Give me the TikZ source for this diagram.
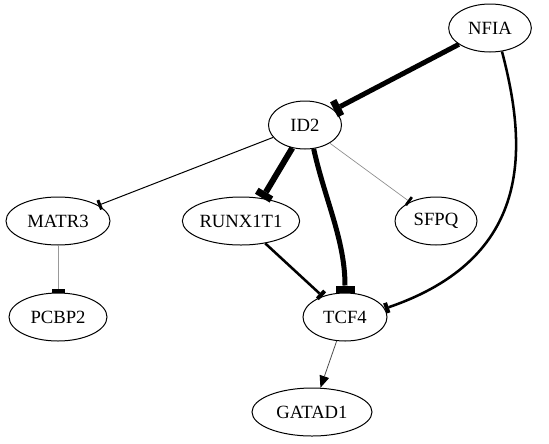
\documentclass[tikz,border=0pt]{standalone}
\usepackage{fontspec}
\setmainfont{Liberation Serif}
\usetikzlibrary{arrows.meta,shapes.geometric}
\begin{document}
\begin{tikzpicture}[x=0.75pt,y=-0.75pt,
  gene/.style={draw, ellipse, line width=0.75pt, inner sep=0pt, minimum height=36pt, font=\fontsize{14}{16}\selectfont},
  teeXL/.style={line width=3.75pt, -{Rectangle[length=5.25pt,width=14.25pt,line width=0pt]}},
  teeL/.style={line width=4.5pt, -{Rectangle[length=5.25pt,width=12.75pt,line width=0pt]}},
  teeM/.style={line width=1.9pt, -{Rectangle[length=3pt,width=8pt,line width=0pt]}},
  teeS/.style={line width=0.75pt, -{Rectangle[length=2.25pt,width=7.5pt,line width=0pt]}},
  teeG/.style={line width=0.75pt, draw=black!40, -{Rectangle[length=2.6pt,width=9.75pt,line width=0pt,color=black]}},
  teeT/.style={line width=0.5pt, draw=black!45, -{Rectangle[length=2pt,width=7.5pt,line width=0pt,color=black]}},
  act/.style={line width=0.6pt, draw=black!70, -{Triangle[length=9pt,width=7.5pt,line width=0pt,color=black]}}
]
\useasboundingbox (0,0) rectangle (549,443);
\node[gene, minimum width=62pt]   (nfia)   at (490,28)  {NFIA};
\node[gene, minimum width=54.75pt](id2)    at (305,125) {ID2};
\node[gene, minimum width=78pt]   (matr3)  at (58,221)  {MATR3};
\node[gene, minimum width=84pt]   (runx)   at (241,221) {RUNX1T1};
\node[gene, minimum width=61.5pt] (sfpq)   at (436,221) {SFPQ};
\node[gene, minimum width=73.5pt] (pcbp2)  at (58,317)  {PCBP2};
\node[gene, minimum width=63pt]   (tcf4)   at (345,317) {TCF4};
\node[gene, minimum width=90pt]   (gatad1) at (312,412) {GATAD1};

\draw[teeL, line width=3.75pt] (nfia) -- (id2);
\draw[teeL] (id2.241) -- (runx.47);
\draw[teeXL] (id2.290) .. controls (325,200) and (345,240) .. (tcf4.north);
\draw[teeM] (nfia.-63) .. controls (528,150) and (532,258) .. (tcf4.12);
\draw[teeM] (runx) -- (tcf4);
\draw[teeS] (id2) -- (matr3);
\draw[teeT] (id2) -- (sfpq);
\draw[teeG] (matr3) -- (pcbp2);
\draw[act] (tcf4) -- (gatad1);
\end{tikzpicture}
\end{document}
